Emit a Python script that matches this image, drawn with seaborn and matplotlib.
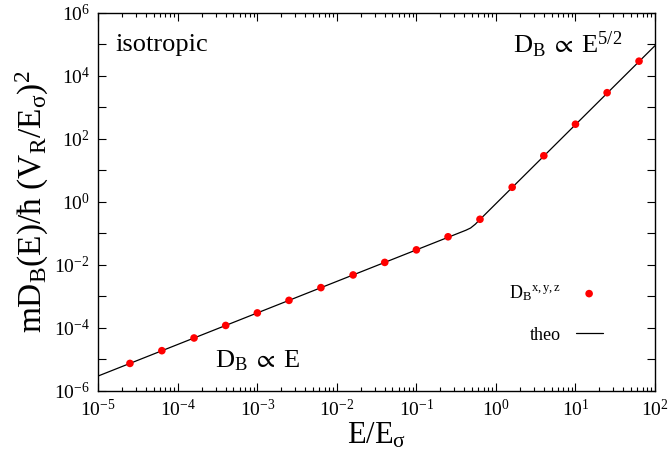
import matplotlib
matplotlib.use("Agg")
import matplotlib.pyplot as plt
import matplotlib.ticker as mticker
import seaborn as sns
import pandas as pd
import numpy as np

# data
E_points = [2.5e-5, 6.3e-5, 1.6e-4, 4.0e-4, 1.0e-3, 2.5e-3, 6.3e-3, 1.6e-2,
            4.0e-2, 1.0e-1, 2.5e-1, 6.3e-1, 1.6, 4.0, 10.0, 25.0, 63.0]
D_points = [7.5e-6, 1.9e-5, 4.8e-5, 1.2e-4, 3.0e-4, 7.5e-4, 1.9e-3, 4.8e-3,
            1.2e-2, 3.0e-2, 7.8e-2, 2.8e-1, 2.9, 29.0, 290.0, 2900.0, 29000.0]
E_theo = [1e-5, 0.35, 0.42, 0.48, 0.55, 0.62, 100.0]
D_theo = [3e-6, 0.105, 0.126, 0.148, 0.195, 0.265, 9.0e4]

x_ticks = [1e-5, 1e-4, 1e-3, 1e-2, 1e-1, 1e0, 1e1, 1e2]

sns.set_style("ticks")
plt.rcParams['font.family'] = ['Liberation Serif', 'DejaVu Serif']
plt.rcParams['mathtext.fontset'] = 'custom'
plt.rcParams['mathtext.rm'] = 'Liberation Serif'
plt.rcParams['mathtext.it'] = 'Liberation Serif:italic'
plt.rcParams['mathtext.cal'] = 'Liberation Serif'
plt.rcParams['mathtext.fallback'] = 'stix'
for k in ['text.color', 'axes.labelcolor', 'xtick.color', 'ytick.color', 'axes.edgecolor']:
    plt.rcParams[k] = 'black'

fig = plt.figure(figsize=(6.7, 4.62), dpi=100)
ax = fig.add_axes([0.1467, 0.1537, 0.8309, 0.8188])

df_p = pd.DataFrame({"E": E_points, "D": D_points})
df_t = pd.DataFrame({"E": E_theo, "D": D_theo})

sns.lineplot(data=df_t, x="E", y="D", ax=ax, color="black", linewidth=0.9,
             label="theo", zorder=2)
sns.scatterplot(data=df_p, x="E", y="D", ax=ax, color="#ff0000", s=30,
                edgecolor="none", label=r"D$_\mathrm{B}$$^{\mathrm{x,y,z}}$", zorder=3)

ax.set_xscale("log")
ax.set_yscale("log")
ax.set_xlim(1e-5, 1e2)
ax.set_ylim(1e-6, 1e6)

ax.xaxis.set_major_locator(mticker.FixedLocator(x_ticks))
ax.xaxis.set_minor_locator(mticker.LogLocator(base=10, subs=np.arange(2, 10), numticks=20))
ax.xaxis.set_minor_formatter(mticker.NullFormatter())
ax.xaxis.set_major_formatter(mticker.FuncFormatter(lambda v, p: r"10$^{%d}$" % round(np.log10(v))))

ax.yaxis.set_major_locator(mticker.FixedLocator([10.0**k for k in range(-6, 7)]))
ax.yaxis.set_minor_locator(mticker.NullLocator())
ax.yaxis.set_major_formatter(mticker.FuncFormatter(
    lambda v, p: (r"10$^{%d}$" % round(np.log10(v))) if round(np.log10(v)) % 2 == 0 else ""))

ax.tick_params(which="both", direction="in", top=True, right=True, labelsize=14,
               width=0.8, color="black")
ax.tick_params(which="major", length=6, pad=6)
ax.tick_params(which="minor", length=3)
for s in ax.spines.values():
    s.set_linewidth(1.0)
    s.set_color("black")

ax.set_xlabel(r"E/E$_{\mathrm{σ}}$", fontsize=22, labelpad=0)
ax.set_ylabel(r"mD$_\mathrm{B}$(E)/ħ (V$_\mathrm{R}$/E$_{\mathrm{σ}}$)$^2$", fontsize=24, labelpad=2)

ax.text(0.03, 0.915, "isotropic", transform=ax.transAxes, fontsize=19, va="center", ha="left")
ax.text(0.745, 0.915, r"D$_\mathrm{B}\;\propto\;$E$^{5/2}$", transform=ax.transAxes,
        fontsize=19, va="center", ha="left")
ax.text(0.21, 0.08, r"D$_\mathrm{B}\;\propto\;$E", transform=ax.transAxes,
        fontsize=19, va="center", ha="left")

h, l = ax.get_legend_handles_labels()
ax.legend(h[::-1], l[::-1], loc="center", bbox_to_anchor=(0.822, 0.205), frameon=False,
          markerfirst=False, fontsize=13, handlelength=1.5, labelspacing=1.3,
          handletextpad=0.8)

fig.savefig("out.png", dpi=100)
